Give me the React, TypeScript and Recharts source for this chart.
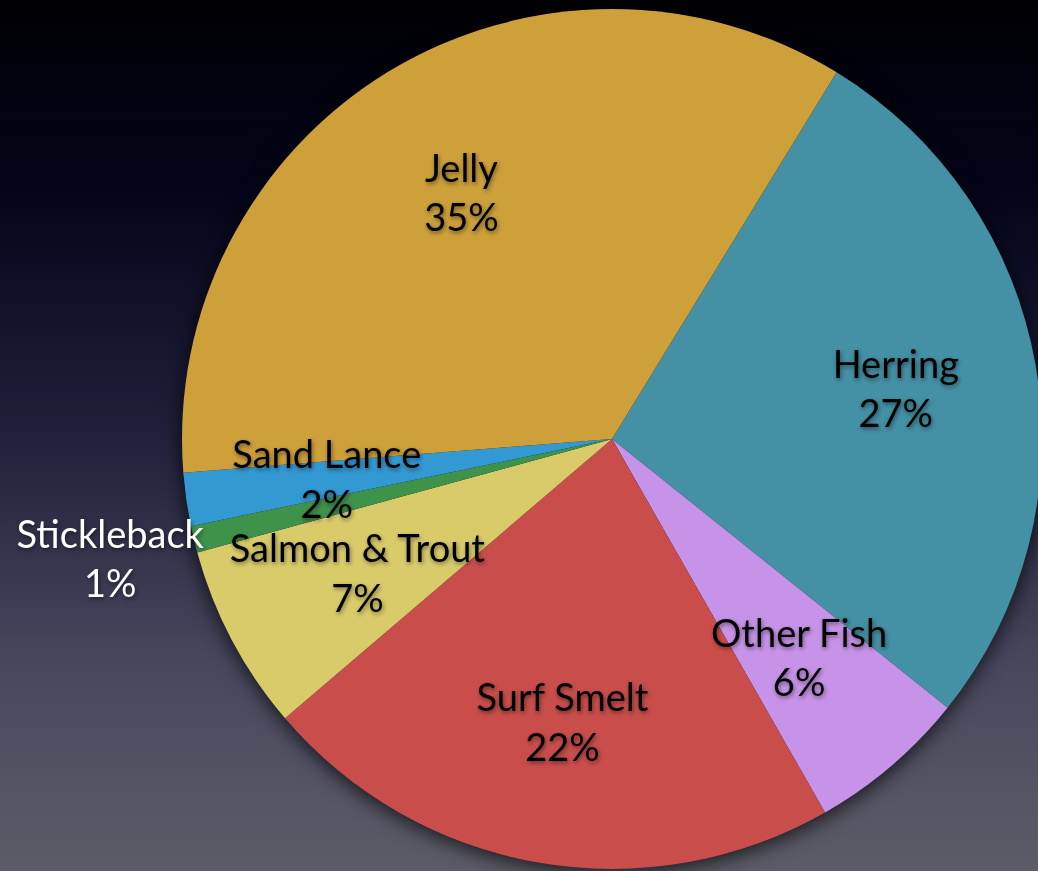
import { PieChart, Pie, Cell } from 'recharts';

const categories = ['Herring', 'Other Fish', 'Surf Smelt', 'Salmon & Trout', 'Stickleback', 'Sand Lance', 'Jelly'];
const shares = [27, 6, 22, 7, 1, 2, 35];
const sliceColors = ['#4490A5', '#C793E8', '#C94E4B', '#DACB6A', '#3F9249', '#3399D3', '#CDA03A'];

const data = categories.map((name, i) => ({ name, value: shares[i] }));

const RADIAN = Math.PI / 180;

// Keynote-style labels: inside at ~2/3 radius, tiny slices pushed outside
function renderLabel(props: any) {
  const { cx, cy, midAngle, outerRadius, index, name, value } = props;
  const outside = value < 2;
  const r = outerRadius * (outside ? 1.2 : 0.67);
  const x = cx + r * Math.cos(-midAngle * RADIAN);
  const y = cy + r * Math.sin(-midAngle * RADIAN);
  const fill = outside ? '#FFFFFF' : '#000000';
  return (
    <text
      key={`lbl-${index}`}
      x={x}
      y={y}
      textAnchor="middle"
      fill={fill}
      fontFamily="Lato, 'Open Sans', sans-serif"
      fontSize={38}
      style={{ filter: 'drop-shadow(1px 2px 2px rgba(0,0,0,0.45))' }}
    >
      <tspan x={x} dy="-0.3em">{name}</tspan>
      <tspan x={x} dy="1.3em">{`${value}%`}</tspan>
    </text>
  );
}

export default function App() {
  return (
    <div
      style={{
        position: 'fixed',
        left: 0,
        top: 0,
        width: 1038,
        height: 871,
        overflow: 'hidden',
        background: 'linear-gradient(180deg, #000003 0%, #04041a 22%, #20203c 50%, #48485e 77%, #5c5c67 100%)',
      }}
    >
      <style>{`.recharts-pie-sector path { stroke: none; } .recharts-pie > .recharts-layer:first-child { filter: drop-shadow(0 4px 10px rgba(0,0,0,0.75)); }`}</style>
      <PieChart width={1038} height={871} margin={{ top: 0, right: 0, bottom: 0, left: 0 }}>
        <Pie
          data={data}
          dataKey="value"
          nameKey="name"
          cx={612}
          cy={439}
          outerRadius={430}
          startAngle={58.5}
          endAngle={-301.5}
          stroke="none"
          label={renderLabel}
          labelLine={false}
          isAnimationActive={false}
        >
          {data.map((d, i) => (
            <Cell key={d.name} fill={sliceColors[i]} />
          ))}
        </Pie>
      </PieChart>
    </div>
  );
}
